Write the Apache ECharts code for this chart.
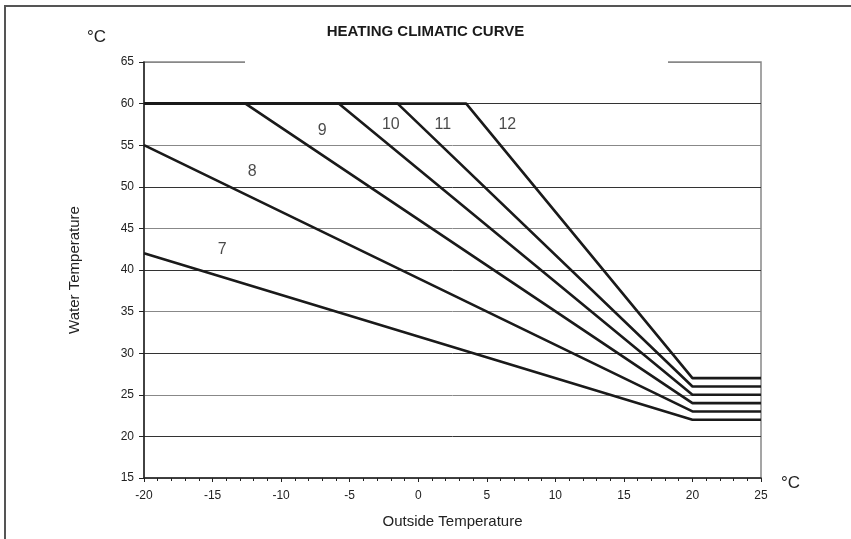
<!DOCTYPE html>
<html>
<head>
    <meta charset="utf-8">
    <title>Heating climatic curve</title>
    <script src="https://cdn.jsdelivr.net/npm/echarts@6/dist/echarts.min.js"></script>
    <style>
        html, body { margin: 0; padding: 0; background: #fff; }
        #main { width: 851px; height: 539px; }
        #frame {
            position: absolute; left: 4px; top: 5px; right: 0; bottom: 0;
            border-top: 2px solid #555; border-left: 2px solid #555;
            pointer-events: none;
        }
    </style>
</head>
<body>
    <div id="main"></div>
    <div id="frame"></div>
    <script type="text/javascript">
        // curves: outside temp -> water temp (°C)
        var curve7  = [[-20, 42], [20, 22], [25, 22]];
        var curve8  = [[-20, 55], [20, 23], [25, 23]];
        var curve9  = [[-20, 60], [-12.6, 60], [20, 24], [25, 24]];
        var curve10 = [[-20, 60], [-5.8, 60], [20, 25], [25, 25]];
        var curve11 = [[-20, 60], [-1.5, 60], [20, 26], [25, 26]];
        var curve12 = [[-20, 60], [3.5, 60], [20, 27], [25, 27]];

        var curveNames = ['7', '8', '9', '10', '11', '12'];
        // where each curve number is written
        var labelPos = [[-14.3, 42.4], [-12.1, 51.8], [-7.0, 56.8], [-2.0, 57.5], [1.8, 57.5], [6.5, 57.5]];

        var xTicks = { min: -20, max: 25, step: 5 };
        var yTicks = { min: 15, max: 65, step: 5 };

        var myChart = echarts.init(document.getElementById('main'));

        var lineStyle = { color: '#1a1a1a', width: 2.6 };
        var series = [curve7, curve8, curve9, curve10, curve11, curve12].map(function (d, i) {
            return {
                name: curveNames[i],
                type: 'line',
                data: d,
                symbol: 'none',
                lineStyle: lineStyle,
                z: 3,
                animation: false
            };
        });

        series.push({
            type: 'scatter',
            symbolSize: 0,
            data: labelPos.map(function (p, i) { return { value: p, name: curveNames[i] }; }),
            label: {
                show: true,
                position: 'inside',
                formatter: '{b}',
                fontFamily: 'Liberation Sans',
                fontSize: 16,
                color: '#1a1a1a'
            },
            animation: false,
            z: 4
        });

        var option = {
            animation: false,
            title: [
                {
                    text: 'HEATING CLIMATIC CURVE',
                    left: 'center',
                    top: 19,
                    textStyle: { fontFamily: 'Liberation Sans', fontSize: 15, fontWeight: 'bold', color: '#1a1a1a' }
                },
                {
                    text: '°C',
                    left: 82,
                    top: 24,
                    textStyle: { fontFamily: 'Liberation Sans', fontSize: 17, fontWeight: 'normal', color: '#222' }
                },
                {
                    text: '°C',
                    left: 776,
                    top: 470,
                    textStyle: { fontFamily: 'Liberation Sans', fontSize: 17, fontWeight: 'normal', color: '#222' }
                }
            ],
            grid: {
                left: 144, right: 90, top: 62, bottom: 61,
                show: true, borderColor: '#888', borderWidth: 1.5
            },
            graphic: [{
                type: 'rect',
                shape: { x: 245, y: 55, width: 423, height: 12 },
                style: { fill: '#fff' },
                z: 5
            }],
            xAxis: {
                type: 'value',
                min: xTicks.min, max: xTicks.max, interval: xTicks.step,
                name: 'Outside Temperature',
                nameLocation: 'middle',
                nameGap: 36,
                nameTextStyle: { fontFamily: 'Liberation Sans', fontSize: 15, color: '#222' },
                axisLine: { onZero: false, lineStyle: { color: '#222', width: 1.5 } },
                axisTick: { show: true, length: 4, lineStyle: { color: '#222' } },
                minorTick: { show: true, splitNumber: 5, length: 3, lineStyle: { color: '#222' } },
                axisLabel: { fontFamily: 'Liberation Sans', fontSize: 12, color: '#222', margin: 12 },
                splitLine: { show: false }
            },
            yAxis: {
                type: 'value',
                min: yTicks.min, max: yTicks.max, interval: yTicks.step,
                name: 'Water Temperature',
                nameLocation: 'middle',
                nameGap: 62,
                nameTextStyle: { fontFamily: 'Liberation Sans', fontSize: 15, color: '#222' },
                axisLine: { show: true, onZero: false, lineStyle: { color: '#222', width: 1.5 } },
                axisTick: { show: true, length: 5, lineStyle: { color: '#222' } },
                axisLabel: { fontFamily: 'Liberation Sans', fontSize: 12, color: '#222', margin: 10 },
                splitLine: { show: true, lineStyle: { color: ['#888', '#333'], width: 1 } }
            },
            series: series
        };

        myChart.setOption(option);
    </script>
</body>
</html>
